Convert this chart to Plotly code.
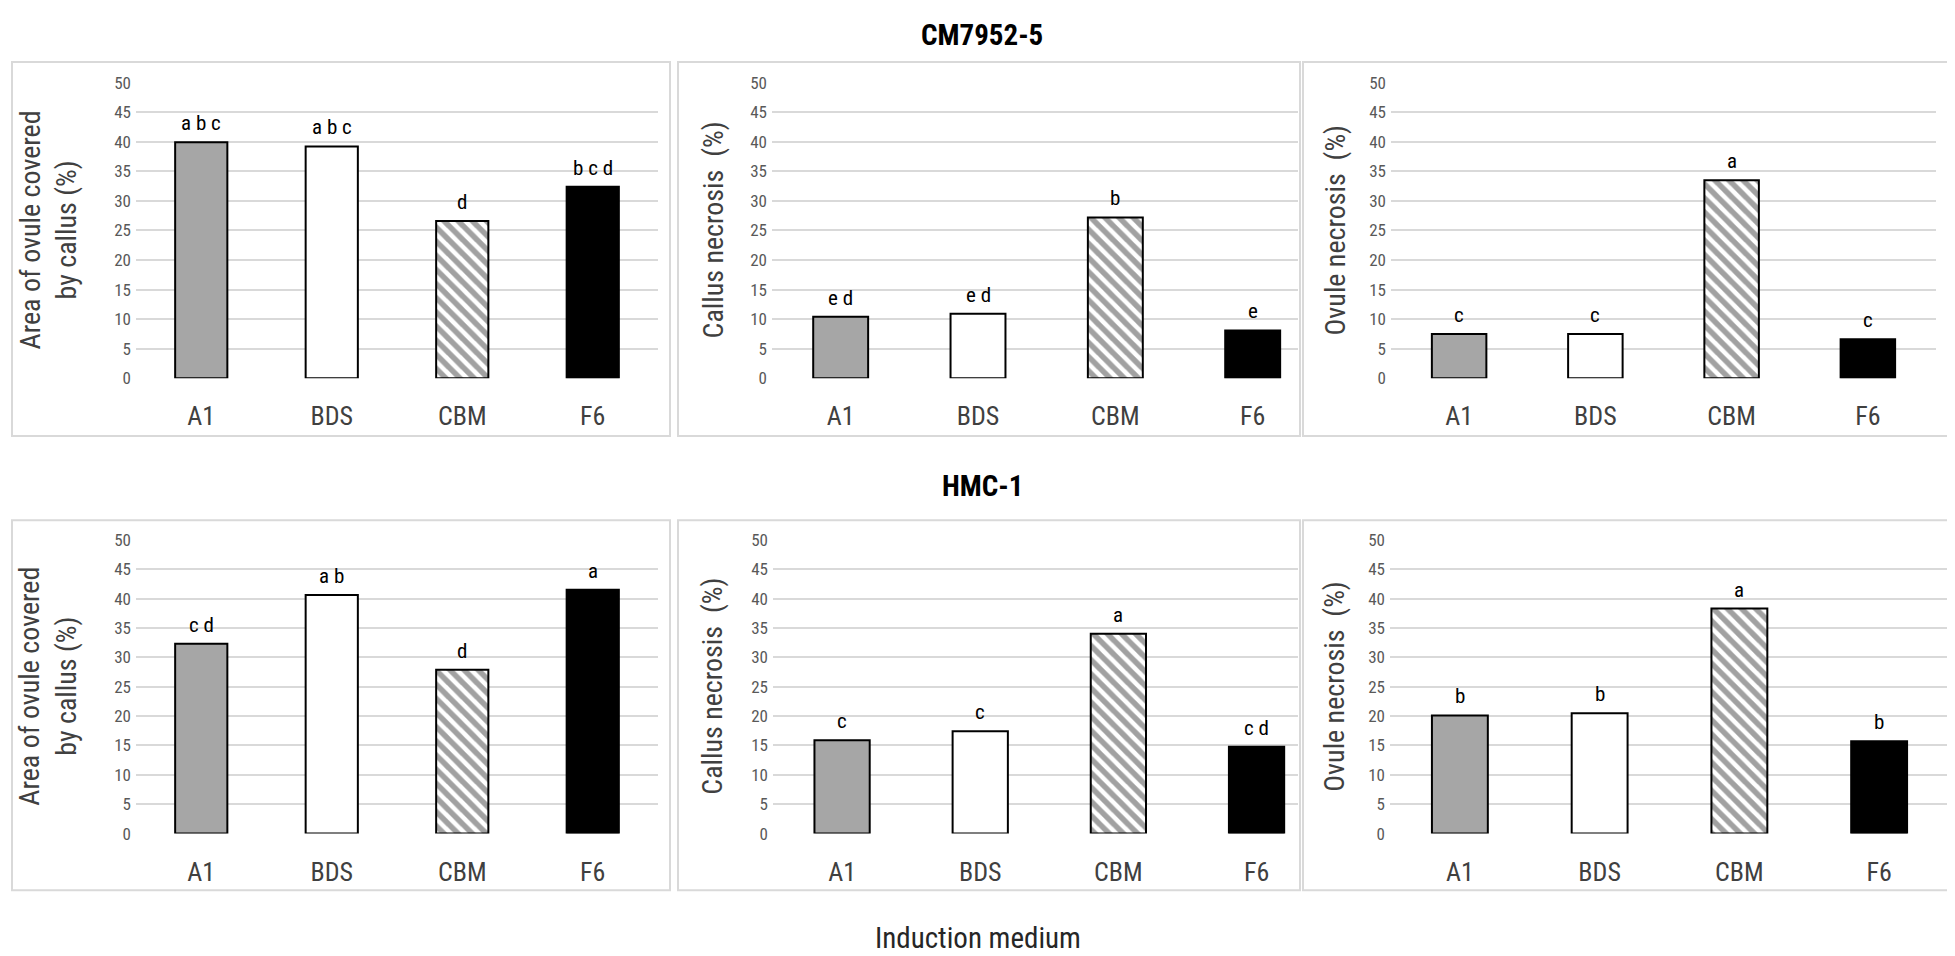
import plotly.graph_objects as go

W, H = 1955, 956

media = ["A1", "BDS", "CBM", "F6"]

# CM7952-5
cm_area = [39.9, 39.2, 26.6, 32.4]
cm_callus = [10.4, 10.9, 27.2, 8.1]
cm_ovule = [7.5, 7.5, 33.5, 6.6]
cm_area_letters = ["a b c", "a b c", "d", "b c d"]
cm_callus_letters = ["e d", "e d", "b", "e"]
cm_ovule_letters = ["c", "c", "a", "c"]

# HMC-1
hmc_area = [32.3, 40.6, 27.9, 41.5]
hmc_callus = [15.9, 17.4, 34.0, 14.8]
hmc_ovule = [20.1, 20.5, 38.3, 15.7]
hmc_area_letters = ["c d", "a b", "d", "a"]
hmc_callus_letters = ["c", "c", "a", "c d"]
hmc_ovule_letters = ["b", "b", "a", "b"]

y_titles = ["Area of ovule covered<br>by callus (%)", "Callus necrosis  (%)", "Ovule necrosis  (%)"]
row_titles = ["CM7952-5", "HMC-1"]

FONT = "Liberation Sans Narrow, Roboto Condensed, Arial Narrow, sans-serif"
fills = ["#a6a6a6", "white", "white", "black"]
patterns = ["", "", "\\", ""]
GRID = "#d9d9d9"


def px_x(p):
    return p / W


def px_y(p):
    return 1 - p / H


# plot-area pixel boxes: (x0, x1, y_top(50), y_bottom(0), xrange_end)
panels = [
    (cm_area, cm_area_letters, 0, (128, 650, 66, 368, 3.5)),
    (cm_callus, cm_callus_letters, 1, (764, 1290, 66, 368, 3.33)),
    (cm_ovule, cm_ovule_letters, 2, (1383, 1928, 66, 368, 3.5)),
    (hmc_area, hmc_area_letters, 0, (128, 650, 533, 833, 3.5)),
    (hmc_callus, hmc_callus_letters, 1, (765, 1290, 533, 833, 3.3)),
    (hmc_ovule, hmc_ovule_letters, 2, (1382, 1941, 533, 833, 3.5)),
]

fig = go.Figure()
layout = {}
annotations = []

for i, (vals, letters, col, box) in enumerate(panels):
    n = "" if i == 0 else str(i + 1)
    x0, x1, yt, yb, xend = box
    fig.add_trace(go.Bar(
        x=list(range(len(media))), y=vals, width=0.4,
        xaxis="x" + n, yaxis="y" + n,
        marker=dict(color=fills, line=dict(color="black", width=2),
                    pattern=dict(shape=patterns, fgcolor="black", bgcolor="white",
                                 size=10, solidity=0.55, fillmode="overlay")),
        showlegend=False, hoverinfo="skip",
    ))
    layout["xaxis" + n] = dict(
        domain=[px_x(x0), px_x(x1)], anchor="y" + n, range=[-0.5, xend],
        tickmode="array", tickvals=list(range(len(media))), ticktext=media,
        showgrid=False, zeroline=False, showline=False, ticks="",
        ticklabelstandoff=20, tickfont=dict(family=FONT, size=26, color="#404040"),
        fixedrange=True,
    )
    layout["yaxis" + n] = dict(
        domain=[px_y(yb), px_y(yt)], anchor="x" + n, range=[0, 50],
        dtick=5, showgrid=True, gridcolor=GRID, gridwidth=2,
        zeroline=False, showline=False, ticks="", ticklabelstandoff=4,
        tickfont=dict(family=FONT, size=17, color="#595959"),
        fixedrange=True,
    )
    for k, t in enumerate(letters):
        annotations.append(dict(
            x=k, y=vals[k], xref="x" + n, yref="y" + n, text=t, showarrow=False,
            xanchor="center", yanchor="bottom", yshift=5,
            font=dict(family=FONT, size=21, color="black"),
        ))
    # rotated y-axis title
    title_x = [40, 705, 1327][col]
    annotations.append(dict(
        x=px_x(title_x), y=px_y((yt + yb) / 2), xref="paper", yref="paper",
        xanchor="center", yanchor="middle",
        text=y_titles[col], textangle=-90, showarrow=False,
        font=dict(family=FONT, size=28, color="#404040"),
    ))

# row titles and common x title
for title, ty in zip(row_titles, [17, 478]):
    annotations.append(dict(x=px_x(974), y=px_y(ty), xref="paper", yref="paper",
                            xanchor="center", yanchor="middle",
                            text="<b>" + title + "</b>", showarrow=False,
                            font=dict(family=FONT, size=29, color="black")))
annotations.append(dict(x=px_x(970), y=px_y(940), xref="paper", yref="paper",
                        xanchor="center", yanchor="middle",
                        text="Induction medium", showarrow=False,
                        font=dict(family=FONT, size=29, color="#262626")))

# panel frames
shapes = []
frames = [(4, 662, 45, 427), (670, 1292, 45, 427), (1295, 1949, 45, 427),
          (4, 662, 513, 891), (670, 1292, 513, 891), (1295, 1949, 513, 891)]
for fx0, fx1, fy0, fy1 in frames:
    shapes.append(dict(type="rect", xref="paper", yref="paper",
                       x0=px_x(fx0), x1=px_x(fx1), y0=px_y(fy1), y1=px_y(fy0),
                       line=dict(color=GRID, width=2), layer="below"))

fig.update_layout(
    width=W, height=H, margin=dict(l=0, r=0, t=0, b=0),
    paper_bgcolor="white", plot_bgcolor="white",
    annotations=annotations, shapes=shapes, **layout,
)

fig.write_html("out.html")
